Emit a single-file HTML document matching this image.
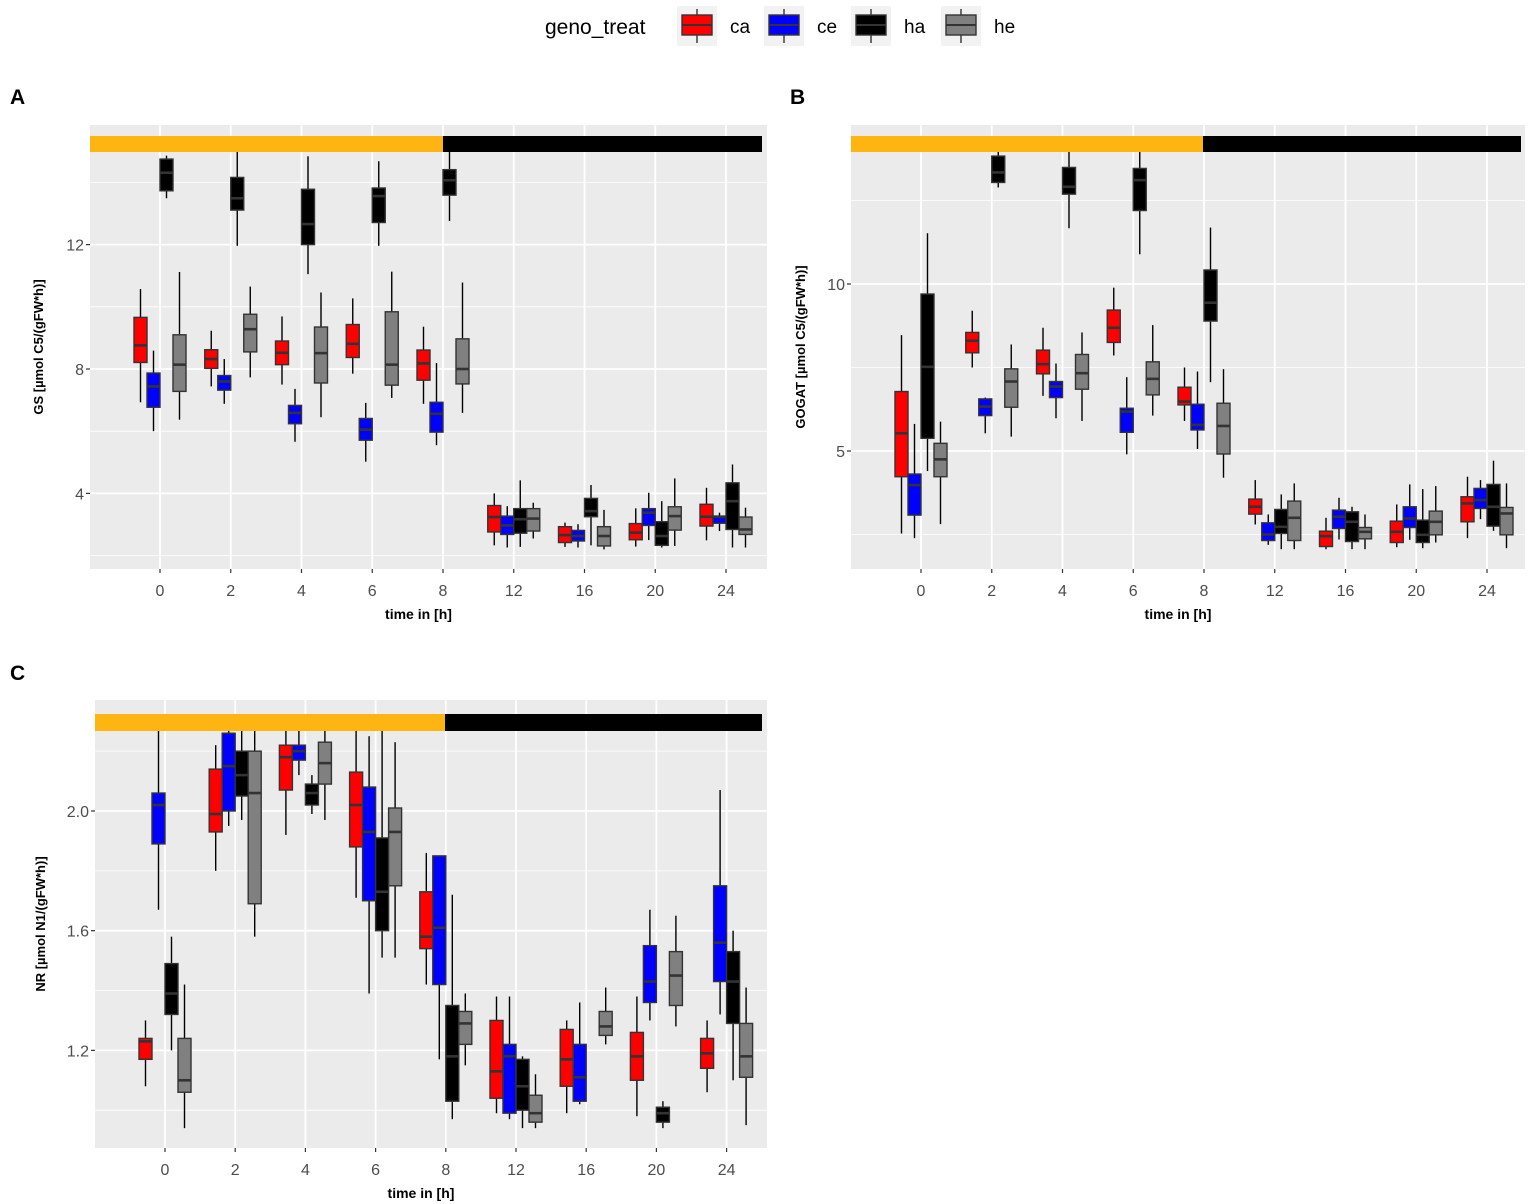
<!DOCTYPE html>
<html><head><meta charset="utf-8">
<style>
body{margin:0;background:#fff;font-family:"Liberation Sans",sans-serif;}
svg{display:block}
</style></head>
<body>
<svg id="fig" width="1535" height="1204" viewBox="0 0 1535 1204" xmlns="http://www.w3.org/2000/svg" font-family="Liberation Sans, sans-serif"></svg>
<script>
// ---- data ----
const categories = ["0","2","4","6","8","12","16","20","24"];
const groups = ["ca","ce","ha","he"];
const groupColors = ["#ff0000","#0000ff","#000000","#808080"];
// each entry: [lowerWhisker, q1, median, q3, upperWhisker], null = missing
const gsCa = [[6.93,8.21,8.76,9.66,10.57],[7.44,8.02,8.32,8.62,9.23],[7.5,8.14,8.52,8.9,9.69],[7.85,8.37,8.81,9.43,10.27],[6.88,7.64,8.18,8.61,9.36],[2.33,2.76,3.24,3.61,4.0],[2.28,2.42,2.66,2.93,3.06],[2.29,2.51,2.74,3.03,3.52],[2.49,2.95,3.25,3.65,4.18]];
const gsCe = [[6.0,6.77,7.44,7.87,8.59],[6.88,7.32,7.6,7.79,8.32],[5.66,6.24,6.59,6.83,7.36],[5.02,5.71,6.05,6.41,6.91],[5.55,5.97,6.56,6.93,8.19],[2.26,2.68,2.97,3.27,3.59],[2.26,2.47,2.63,2.81,3.01],[2.5,2.97,3.38,3.51,4.02],[2.79,3.04,3.25,3.27,3.38]];
const gsHa = [[13.49,13.73,14.31,14.75,14.86],[11.96,13.11,13.49,14.16,15.2],[11.05,12.0,12.66,13.78,14.84],[11.96,12.71,13.56,13.82,14.68],[12.76,13.59,14.07,14.41,15.2],[2.28,2.72,3.17,3.51,4.42],[2.33,3.25,3.43,3.84,4.27],[2.26,2.33,2.63,3.09,3.75],[2.26,2.84,3.75,4.34,4.93]];
const gsHe = [[6.37,7.28,8.14,9.1,11.12],[7.73,8.55,9.28,9.76,10.65],[6.45,7.55,8.51,9.35,10.46],[7.07,7.48,8.14,9.84,11.13],[6.59,7.52,8.0,8.97,10.78],[2.55,2.79,3.19,3.51,3.7],[2.2,2.31,2.63,2.93,3.47],[2.31,2.82,3.27,3.57,4.48],[2.26,2.68,2.84,3.24,3.54]];
const gogatCa = [[2.53,4.23,5.53,6.78,8.47],[7.5,7.94,8.3,8.55,9.2],[6.65,7.31,7.6,8.02,8.69],[7.86,8.25,8.69,9.22,9.89],[5.9,6.38,6.48,6.91,7.5],[2.8,3.11,3.33,3.56,4.13],[2.06,2.14,2.45,2.6,3.0],[2.12,2.26,2.58,2.9,3.4],[2.39,2.88,3.43,3.63,4.23]];
const gogatCe = [[2.39,3.08,3.98,4.31,5.81],[5.53,6.06,6.33,6.56,6.6],[5.98,6.6,6.93,7.08,7.62],[4.9,5.56,6.18,6.28,7.21],[5.06,5.63,5.78,6.4,7.38],[2.19,2.32,2.5,2.85,3.1],[2.35,2.68,3.03,3.23,3.6],[2.34,2.71,2.98,3.33,4.0],[2.96,3.28,3.53,3.88,4.13]];
const gogatHa = [[4.4,5.38,7.52,9.7,11.52],[12.89,13.04,13.34,13.83,14.2],[11.67,12.69,12.91,13.49,14.2],[10.89,12.2,13.11,13.46,14.2],[7.06,8.89,9.44,10.42,11.69],[2.06,2.53,2.73,3.25,3.7],[2.06,2.29,2.88,3.18,3.33],[2.09,2.26,2.49,2.93,3.86],[2.61,2.75,3.33,4.0,4.71]];
const gogatHe = [[2.81,4.23,4.75,5.23,5.88],[5.43,6.31,7.08,7.46,8.19],[5.9,6.85,7.33,7.89,8.55],[6.06,6.68,7.16,7.67,8.77],[4.2,4.91,5.75,6.43,7.45],[2.06,2.32,3.0,3.5,4.03],[2.06,2.37,2.58,2.71,3.1],[2.26,2.49,2.88,3.2,3.95],[2.09,2.49,3.13,3.31,4.03]];
const nrCa = [[1.08,1.17,1.23,1.24,1.30],[1.80,1.93,1.99,2.14,2.22],[1.92,2.07,2.18,2.22,2.30],[1.71,1.88,2.02,2.13,2.30],[1.42,1.54,1.58,1.73,1.86],[0.99,1.04,1.13,1.30,1.38],[0.99,1.08,1.17,1.27,1.30],[0.98,1.10,1.18,1.26,1.38],[1.06,1.14,1.19,1.24,1.30]];
const nrCe = [[1.67,1.89,2.02,2.06,2.30],[1.95,2.0,2.15,2.26,2.30],[2.12,2.17,2.2,2.22,2.30],[1.39,1.70,1.93,2.08,2.25],[1.17,1.42,1.61,1.85,1.85],[0.97,0.99,1.18,1.22,1.38],[1.02,1.03,1.11,1.22,1.36],[1.30,1.36,1.43,1.55,1.67],[1.32,1.43,1.56,1.75,2.07]];
const nrHa = [[1.20,1.32,1.39,1.49,1.58],[1.97,2.05,2.12,2.2,2.30],[1.99,2.02,2.06,2.09,2.12],[1.51,1.60,1.73,1.91,2.30],[0.97,1.03,1.18,1.35,1.72],[0.94,1.0,1.08,1.17,1.18],null,[0.94,0.96,0.99,1.01,1.03],[1.10,1.29,1.43,1.53,1.60]];
const nrHe = [[0.94,1.06,1.10,1.24,1.42],[1.58,1.69,2.06,2.2,2.30],[1.97,2.09,2.16,2.23,2.30],[1.51,1.75,1.93,2.01,2.23],[1.15,1.22,1.29,1.33,1.39],[0.94,0.96,0.99,1.05,1.12],[1.22,1.25,1.28,1.33,1.41],[1.28,1.35,1.45,1.53,1.65],[0.95,1.11,1.18,1.29,1.41]];
const gsTicks = [4,8,12];
const gogatTicks = [5,10];
const nrTicks = [1.2,1.6,2.0];
const nrTickLabels = ["1.2","1.6","2.0"];

const NS = "http://www.w3.org/2000/svg";
const svg = document.getElementById("fig");
function mk(tag, attrs, parent, text){
  const e = document.createElementNS(NS, tag);
  for (const k in attrs) e.setAttribute(k, attrs[k]);
  if (text !== undefined) e.textContent = text;
  (parent||svg).appendChild(e);
  return e;
}

function panel(cfg){
  const g = mk("g", {});
  
  
  const clipId = cfg.name + "-clip";
  const cp = mk("clipPath", {id: clipId}, g);
  mk("rect", {x: cfg.x0, y: cfg.y0, width: cfg.x1 - cfg.x0, height: cfg.y1 - cfg.y0}, cp);
  const bg = mk("rect", {x: cfg.x0, y: cfg.y0, width: cfg.x1 - cfg.x0, height: cfg.y1 - cfg.y0, fill: "#ebebeb"}, g);
  
  
  const yScale = v => cfg.yRef - (v - cfg.vRef) * cfg.pxPerUnit;
  const xScale = i => cfg.xFirst + i * cfg.xStep;
  // minor grid
  for (const m of cfg.minor) {
    const l = mk("line", {x1: cfg.x0, x2: cfg.x1, y1: yScale(m), y2: yScale(m), stroke: "#fff", "stroke-width": 0.8}, g);
    
    
  }
  cfg.ticks.forEach((t, k) => {
    const l = mk("line", {x1: cfg.x0, x2: cfg.x1, y1: yScale(t), y2: yScale(t), stroke: "#fff", "stroke-width": 1.8}, g);
    
    
    mk("line", {x1: cfg.x0 - 4, x2: cfg.x0, y1: yScale(t), y2: yScale(t), stroke: "#333", "stroke-width": 1.2}, g);
    const tl = mk("text", {x: cfg.x0 - 6, y: yScale(t) + 6, "text-anchor": "end", "font-size": 16, fill: "#4d4d4d"}, g, cfg.tickLabels ? cfg.tickLabels[k] : String(t));
    
    
  });
  categories.forEach((c, i) => {
    const x = xScale(i);
    const l = mk("line", {x1: x, x2: x, y1: cfg.y0, y2: cfg.y1, stroke: "#fff", "stroke-width": 1.8}, g);
    
    
    mk("line", {x1: x, x2: x, y1: cfg.y1, y2: cfg.y1 + 4, stroke: "#333", "stroke-width": 1.2}, g);
    const tl = mk("text", {x: x, y: cfg.y1 + 27, "text-anchor": "middle", "font-size": 16, fill: "#4d4d4d"}, g, c);
    
    
  });
  // boxes
  const offsets = [-19.5, -6.5, 6.5, 19.5];
  const bw = 13;
  const clipG = mk("g", {"clip-path": "url(#" + clipId + ")"}, g);
  cfg.series.forEach((ser, gi) => {
    ser.forEach((d, i) => {
      if (!d) return;
      const cx = xScale(i) + offsets[gi];
      const bx = mk("g", {}, clipG);
      
      
      mk("line", {x1: cx, x2: cx, y1: yScale(d[0]), y2: yScale(d[1]), stroke: "#000", "stroke-width": 1.4}, bx);
      mk("line", {x1: cx, x2: cx, y1: yScale(d[3]), y2: yScale(d[4]), stroke: "#000", "stroke-width": 1.4}, bx);
      mk("rect", {x: cx - bw/2, y: yScale(d[3]), width: bw, height: Math.max(1, yScale(d[1]) - yScale(d[3])), fill: groupColors[gi], stroke: "#333", "stroke-width": 1.4}, bx);
      mk("line", {x1: cx - bw/2, x2: cx + bw/2, y1: yScale(d[2]), y2: yScale(d[2]), stroke: "#333", "stroke-width": 2.6}, bx);
    });
  });
  // light/dark strip
  const so = mk("rect", {x: cfg.x0, y: cfg.sy, width: cfg.sMid - cfg.x0, height: cfg.sh, fill: "#ffb511"}, g);
  
  
  const sb = mk("rect", {x: cfg.sMid, y: cfg.sy, width: cfg.sEnd - cfg.sMid, height: cfg.sh, fill: "#000"}, g);
  
  
  // titles
  const xt = mk("text", {x: (cfg.x0 + cfg.x1)/2 - 10, y: cfg.y1 + 50, "text-anchor": "middle", "font-size": 14, "font-weight": "bold", fill: "#000"}, g, "time in [h]");
  
  
  const ymid = (cfg.y0 + cfg.y1)/2;
  const yt = mk("text", {x: cfg.ytx, y: ymid, "text-anchor": "middle", "font-size": 13, "font-weight": "bold", fill: "#000", transform: "rotate(-90 " + cfg.ytx + " " + ymid + ")"}, g, cfg.ytitle);
  
  
  const pl = mk("text", {x: cfg.lx, y: cfg.ly, "font-size": 21, "font-weight": "bold", fill: "#000"}, g, cfg.label);
  
  
}

panel({name: "panel-a-gs", x0: 90, x1: 767, y0: 125, y1: 569, xFirst: 160, xStep: 70.75,
  yRef: 369, vRef: 8, pxPerUnit: 31.1, ticks: gsTicks, minor: [2,6,10,14],
  series: [gsCa, gsCe, gsHa, gsHe], sy: 136, sh: 16, sMid: 443, sEnd: 762,
  ytitle: "GS [µmol C5/(gFW*h)]", ytx: 43, label: "A", lx: 10, ly: 104});
panel({name: "panel-b-gogat", x0: 851, x1: 1525, y0: 125, y1: 569, xFirst: 921, xStep: 70.75,
  yRef: 284, vRef: 10, pxPerUnit: 33.4, ticks: gogatTicks, minor: [2.5,7.5,12.5],
  series: [gogatCa, gogatCe, gogatHa, gogatHe], sy: 136, sh: 16, sMid: 1203, sEnd: 1521,
  ytitle: "GOGAT [µmol C5/(gFW*h)]", ytx: 805, label: "B", lx: 790, ly: 104});
panel({name: "panel-c-nr", x0: 95, x1: 767, y0: 700, y1: 1148, xFirst: 165, xStep: 70.2,
  yRef: 811, vRef: 2.0, pxPerUnit: 299.2, ticks: nrTicks, tickLabels: nrTickLabels, minor: [1.0,1.4,1.8,2.2],
  series: [nrCa, nrCe, nrHa, nrHe], sy: 714, sh: 17, sMid: 445, sEnd: 762,
  ytitle: "NR [µmol N1/(gFW*h)]", ytx: 45, label: "C", lx: 10, ly: 680});

// legend
const lg = mk("g", {});


const lt = mk("text", {x: 545, y: 34, "font-size": 21, fill: "#000"}, lg, "geno_treat");


const keyX = [677, 764, 851, 941];
groups.forEach((gname, gi) => {
  const e = mk("g", {}, lg);
  
  
  const kx = keyX[gi];
  mk("rect", {x: kx, y: 6, width: 40, height: 40, fill: "#f2f2f2"}, e);
  mk("line", {x1: kx+20, x2: kx+20, y1: 9, y2: 43, stroke: "#333", "stroke-width": 1.4}, e);
  mk("rect", {x: kx+5, y: 15, width: 30, height: 20, fill: groupColors[gi], stroke: "#333", "stroke-width": 1.4}, e);
  mk("line", {x1: kx+5, x2: kx+35, y1: 25, y2: 25, stroke: "#333", "stroke-width": 2}, e);
  mk("text", {x: kx + 53, y: 33, "font-size": 19, fill: "#000"}, e, gname);
});
</script>
</body></html>
